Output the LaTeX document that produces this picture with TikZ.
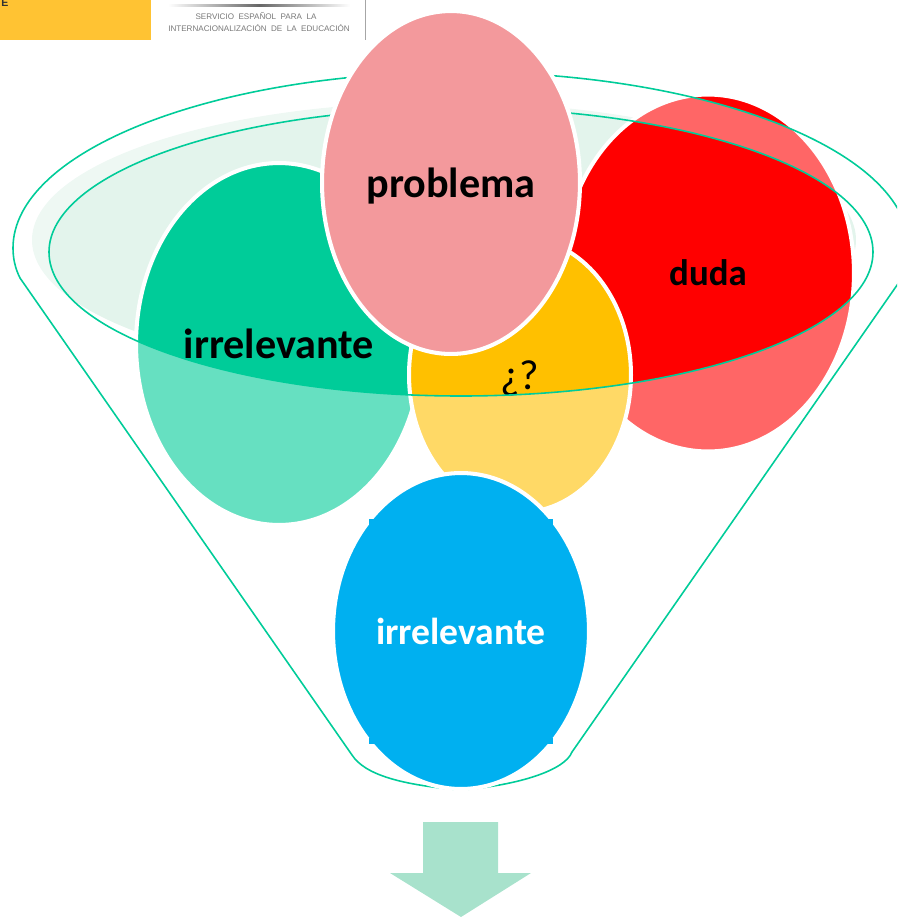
\documentclass[tikz,border=0pt]{standalone}
\usepackage{fontspec}
\setmainfont{Carlito}
\newfontfamily\logofont{Liberation Sans}
\usetikzlibrary{shapes.geometric,positioning}
\definecolor{fgreen}{RGB}{0,204,153}
\definecolor{fred}{RGB}{255,0,0}
\definecolor{forange}{RGB}{255,192,0}
\definecolor{fblue}{RGB}{0,176,240}
\definecolor{fpink}{RGB}{243,153,156}
\definecolor{fpale}{RGB}{227,244,236}
\definecolor{farrow}{RGB}{168,226,204}
\definecolor{fgold}{RGB}{255,195,51}
\definecolor{flogo}{RGB}{120,120,120}
\tikzstyle{blob} = [ellipse, draw=white, line width=2.3pt, inner sep=0pt, text depth=0pt, font=\fontsize{24}{28}\selectfont\bfseries, text=black]
\tikzstyle{logotext} = [font=\logofont\fontsize{4.6}{6}\selectfont, text=flogo, inner sep=0pt]
\tikzstyle{handle} = [fill=fblue, minimum size=0.12cm, inner sep=0pt]

\begin{document}
\begin{tikzpicture}[x=0.02cm, y=-0.02cm]
\clip (0,0) rectangle (897,917);
% header
\fill[fgold] (0,0) rectangle (151,40);
\node[font=\logofont\fontsize{6}{7}\selectfont\bfseries, inner sep=0pt, text=black!80] (mark) at (5,3) {E};
\shade[left color=white, right color=white, middle color=black!60] (168,4.5) rectangle (350,6);
\node[logotext] (logoa) at (256,16) {SERVICIO\ \ ESPAÑOL\ \ PARA\ \ LA};
\node[logotext] (logob) at (259,28) {INTERNACIONALIZACIÓN\ \ DE\ \ LA\ \ EDUCACIÓN};
\draw[black!35, line width=0.4pt] (365,0) -- (365,40);
% funnel
\fill[fpale] (444,240) ellipse [x radius=412, y radius=138];
\node[blob, fill=fgreen, minimum width=5.72cm, minimum height=7.24cm] (irr) at (279,344) {irrelevante};
\node[blob, fill=fred, minimum width=5.84cm, minimum height=7.14cm, font=\fontsize{21}{25}\selectfont\bfseries] (duda) at (708,273) {duda};
\node[blob, fill=forange, minimum width=4.44cm, minimum height=5.5cm, font=\fontsize{24}{28}\selectfont] (unk) at (520,375) {¿?};
\path[draw=fgreen, line width=0.9pt, fill=white, fill opacity=0.4, draw opacity=1, even odd rule]
  (20,278) .. controls (15,268) and (13,258) .. (13,248)
  arc [start angle=180, end angle=360, x radius=448, y radius=176]
  .. controls (909,258) and (907,268) .. (902,278)
  -- (572,752) .. controls (565,770) and (520,785) .. (461,790)
  .. controls (402,785) and (365,775) .. (352,755) -- cycle
  (461,252) ellipse [x radius=412, y radius=144];
\node[blob, fill=fpink, minimum width=5.16cm, minimum height=6.86cm] (prob) at (451,182.5) {problema};
\node[blob, fill=fblue, minimum width=5.12cm, minimum height=6.32cm, font=\fontsize{21.4}{25}\selectfont\bfseries, text=white] (irrb) at (461,631) {irrelevante};
\foreach \hx/\hy in {372/522,550/522,372/741,550/741}
  \node[handle] at (\hx,\hy) {};
% output arrow
\fill[farrow] (423,822) -- (498,822) -- (498,873) -- (531,873) -- (461,917) -- (390,873) -- (423,873) -- cycle;
\end{tikzpicture}
\end{document}
